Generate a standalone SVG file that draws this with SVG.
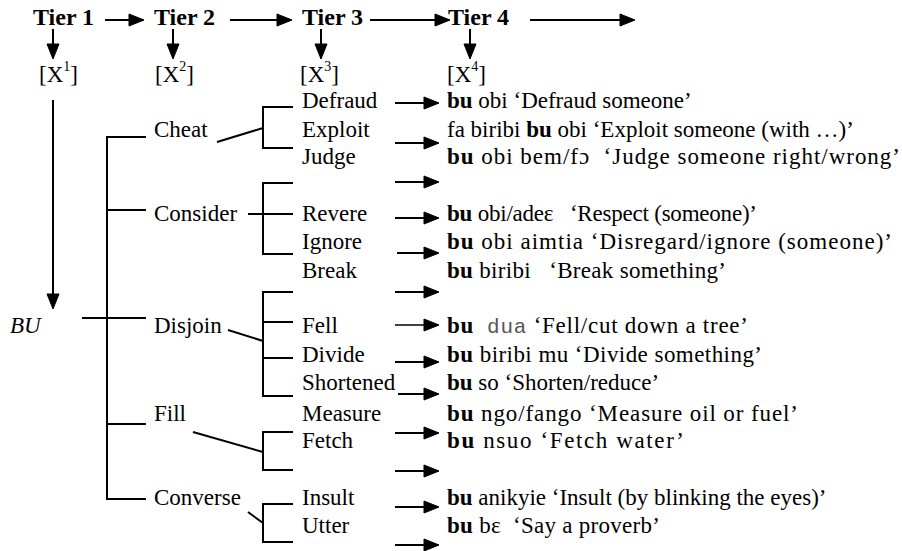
<svg xmlns="http://www.w3.org/2000/svg" width="902" height="551" viewBox="0 0 902 551" font-family="'Liberation Serif', 'Times New Roman', serif">
<defs>
<marker id="ah" markerUnits="userSpaceOnUse" markerWidth="16" markerHeight="14" refX="14" refY="7" orient="auto" overflow="visible">
<polygon points="0,1 15,7 0,13" style="fill:#000;stroke:#000;stroke-width:1"/>
</marker>
<style>
text{font-family:'Liberation Serif','Times New Roman',serif;font-size:23px;fill:#000}
.hd{font-weight:bold;font-size:24px}
.b{font-weight:bold}
.mono{font-family:'Liberation Mono','Courier New',monospace;font-size:21px;fill:#555}
.sup{font-size:14px}
.it{font-style:italic}
line,polyline{stroke:#000;stroke-width:2;fill:none}
.ar{marker-end:url(#ah)}
</style>
</defs>
<rect width="902" height="551" fill="#fff"/>
<g id="headers">
<text class="hd" x="33" y="25">Tier 1</text>
<text class="hd" x="154" y="25">Tier 2</text>
<text class="hd" x="302" y="25">Tier 3</text>
<text class="hd" x="448" y="25">Tier 4</text>
<text x="39" y="82">[X<tspan class="sup" dy="-11">1</tspan><tspan dy="11">]</tspan></text>
<text x="155" y="82">[X<tspan class="sup" dy="-11">2</tspan><tspan dy="11">]</tspan></text>
<text x="300" y="82">[X<tspan class="sup" dy="-11">3</tspan><tspan dy="11">]</tspan></text>
<text x="447" y="82">[X<tspan class="sup" dy="-11">4</tspan><tspan dy="11">]</tspan></text>
</g>
<g id="root"><text class="it" x="10" y="333">BU</text></g>
<g id="tier2">
<text x="154" y="137">Cheat</text>
<text x="154" y="221">Consider</text>
<text x="154" y="333">Disjoin</text>
<text x="154" y="421">Fill</text>
<text x="154" y="505">Converse</text>
</g>
<g id="tier3">
<text x="302" y="108">Defraud</text>
<text x="302" y="137">Exploit</text>
<text x="302" y="164">Judge</text>
<text x="302" y="221">Revere</text>
<text x="302" y="249">Ignore</text>
<text x="302" y="278">Break</text>
<text x="302" y="333">Fell</text>
<text x="302" y="362">Divide</text>
<text x="302" y="390">Shortened</text>
<text x="302" y="421">Measure</text>
<text x="302" y="448">Fetch</text>
<text x="302" y="505">Insult</text>
<text x="302" y="533">Utter</text>
</g>
<g id="tier4">
<text x="447" y="108"><tspan class="b">bu</tspan> obi ‘Defraud someone’</text>
<text x="447" y="137">fa biribi <tspan class="b">bu</tspan> obi ‘Exploit someone (with …)’</text>
<text x="447" y="164" xml:space="preserve" textLength="453" lengthAdjust="spacing"><tspan class="b">bu</tspan> obi bem/fɔ  ‘Judge someone right/wrong’</text>
<text x="447" y="221" xml:space="preserve" textLength="310" lengthAdjust="spacing"><tspan class="b">bu</tspan> obi/adeɛ   ‘Respect (someone)’</text>
<text x="447" y="249" textLength="445" lengthAdjust="spacing"><tspan class="b">bu</tspan> obi aimtia ‘Disregard/ignore (someone)’</text>
<text x="447" y="278" xml:space="preserve" textLength="279" lengthAdjust="spacing"><tspan class="b">bu</tspan> biribi   ‘Break something’</text>
<text x="447" y="333" xml:space="preserve" textLength="301" lengthAdjust="spacing"><tspan class="b">bu</tspan>  <tspan class="mono">dua</tspan> ‘Fell/cut down a tree’</text>
<text x="447" y="362" textLength="315" lengthAdjust="spacing"><tspan class="b">bu</tspan> biribi mu ‘Divide something’</text>
<text x="447" y="390"><tspan class="b">bu</tspan> so ‘Shorten/reduce’</text>
<text x="447" y="421" textLength="351" lengthAdjust="spacing"><tspan class="b">bu</tspan> ngo/fango ‘Measure oil or fuel’</text>
<text x="447" y="448" textLength="237" lengthAdjust="spacing"><tspan class="b">bu</tspan> nsuo ‘Fetch water’</text>
<text x="447" y="505"><tspan class="b">bu</tspan> anikyie ‘Insult (by blinking the eyes)’</text>
<text x="447" y="533" xml:space="preserve" textLength="213" lengthAdjust="spacing"><tspan class="b">bu</tspan> bɛ  ‘Say a proverb’</text>
</g>
<g id="connectors">
<line class="ar" x1="105" y1="20" x2="143" y2="20"/>
<line class="ar" x1="230" y1="20" x2="291" y2="20"/>
<line class="ar" x1="370" y1="20" x2="449" y2="20"/>
<line class="ar" x1="530" y1="20" x2="634" y2="20"/>
<line class="ar" x1="53" y1="29" x2="53" y2="58"/>
<line class="ar" x1="173" y1="29" x2="173" y2="58"/>
<line class="ar" x1="321" y1="29" x2="321" y2="58"/>
<line class="ar" x1="470" y1="29" x2="470" y2="58"/>
<line class="ar" x1="53" y1="100" x2="53" y2="308"/>
<polyline points="146,137 107,137 107,499 146,499"/>
<line x1="107" y1="210" x2="146" y2="210"/>
<line x1="82" y1="318" x2="146" y2="318"/>
<line x1="107" y1="424" x2="146" y2="424"/>
<polyline points="293,107 263,107 263,148 293,148"/>
<line x1="217" y1="142" x2="263" y2="128"/>
<polyline points="293,183 263,183 263,254 293,254"/>
<line x1="248" y1="214" x2="293" y2="214"/>
<polyline points="293,292 263,292 263,396 293,396"/>
<line x1="263" y1="322" x2="293" y2="322"/>
<line x1="263" y1="358" x2="293" y2="358"/>
<line x1="228" y1="330" x2="263" y2="341"/>
<polyline points="293,432 263,432 263,470 293,470"/>
<line x1="193" y1="432" x2="263" y2="452"/>
<polyline points="293,504 263,504 263,542 293,542"/>
<line x1="248" y1="512" x2="263" y2="523"/>
<line class="ar" x1="395" y1="103" x2="438" y2="103"/>
<line class="ar" x1="395" y1="143" x2="438" y2="143"/>
<line class="ar" x1="395" y1="182" x2="438" y2="182"/>
<line class="ar" x1="395" y1="218" x2="438" y2="218"/>
<line class="ar" x1="397" y1="253" x2="438" y2="253"/>
<line class="ar" x1="395" y1="292" x2="438" y2="292"/>
<line class="ar" x1="395" y1="325" x2="438" y2="325" style="stroke-width:1.5"/>
<line class="ar" x1="395" y1="362" x2="438" y2="362"/>
<line class="ar" x1="398" y1="394" x2="438" y2="394"/>
<line class="ar" x1="395" y1="433" x2="438" y2="433"/>
<line class="ar" x1="395" y1="471" x2="438" y2="471"/>
<line class="ar" x1="395" y1="507" x2="438" y2="507"/>
<line class="ar" x1="395" y1="545" x2="438" y2="545"/>
</g>
</svg>
